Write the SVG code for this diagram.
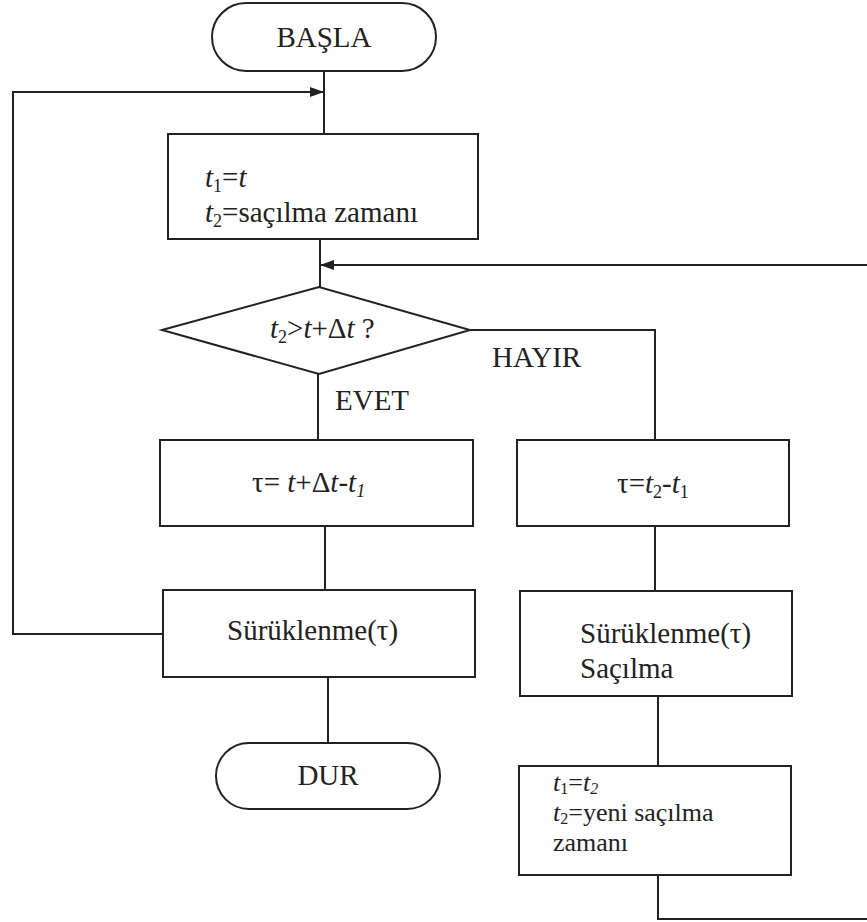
<svg xmlns="http://www.w3.org/2000/svg" width="867" height="922" viewBox="0 0 867 922">
<style>
.s{fill:#fff;stroke:#222;stroke-width:2}
.c{fill:none;stroke:#222;stroke-width:2}
text{font-family:"Liberation Serif","Times New Roman",serif;font-size:29px;fill:#222}
.i{font-style:italic}
.sub{font-size:18px}
.sm{font-size:26px}
.sm .sub{font-size:16px}
</style>
<defs>
<marker id="ah" markerWidth="14" markerHeight="10" refX="13" refY="5" orient="auto" markerUnits="userSpaceOnUse">
<path d="M0,0 L14,5 L0,10 Z" fill="#222"/>
</marker>
</defs>
<g id="connectors">
<path class="c" d="M324,71 V134"/>
<path class="c" d="M163,634 H13 V92 H323" marker-end="url(#ah)"/>
<path class="c" d="M320,239 V287"/>
<path class="c" d="M658,875 V919 H872 V265 H321" marker-end="url(#ah)"/>
<path class="c" d="M318,374 V440"/>
<path class="c" d="M325,526 V590"/>
<path class="c" d="M328,677 V743"/>
<path class="c" d="M470,330 H655 V440"/>
<path class="c" d="M655,526 V591"/>
<path class="c" d="M658,696 V766"/>
</g>
<g id="basla">
<rect class="s" x="212" y="3" width="224" height="68" rx="34"/>
<text x="324" y="47" text-anchor="middle">BAŞLA</text>
</g>
<g id="init">
<rect class="s" x="168" y="134" width="310" height="105"/>
<text x="205" y="187"><tspan class="i">t</tspan><tspan class="sub" dy="5">1</tspan><tspan dy="-5">=</tspan><tspan class="i">t</tspan></text>
<text x="205" y="222"><tspan class="i">t</tspan><tspan class="sub" dy="5">2</tspan><tspan dy="-5">=saçılma zamanı</tspan></text>
</g>
<g id="decision">
<polygon class="s" points="162,330 319,287 470,330 319,374"/>
<text x="270" y="338"><tspan class="i">t</tspan><tspan class="sub" dy="5">2</tspan><tspan dy="-5">&gt;</tspan><tspan class="i">t</tspan><tspan>+Δ</tspan><tspan class="i">t</tspan><tspan> ?</tspan></text>
</g>
<g id="labels">
<text x="335" y="410">EVET</text>
<text x="492" y="367">HAYIR</text>
</g>
<g id="tau-yes">
<rect class="s" x="160" y="440" width="313" height="86"/>
<text x="252" y="492">τ= <tspan class="i">t</tspan>+Δ<tspan class="i">t</tspan>-<tspan class="i">t</tspan><tspan class="sub i" dy="5">1</tspan></text>
</g>
<g id="drift-yes">
<rect class="s" x="163" y="590" width="312" height="87"/>
<text x="227" y="640">Sürüklenme(τ)</text>
</g>
<g id="dur">
<rect class="s" x="216" y="743" width="224" height="66" rx="33"/>
<text x="328" y="785" text-anchor="middle">DUR</text>
</g>
<g id="tau-no">
<rect class="s" x="517" y="440" width="272" height="86"/>
<text x="617" y="493">τ=<tspan class="i">t</tspan><tspan class="sub" dy="5">2</tspan><tspan dy="-5">-</tspan><tspan class="i">t</tspan><tspan class="sub" dy="5">1</tspan></text>
</g>
<g id="drift-no">
<rect class="s" x="520" y="591" width="272" height="105"/>
<text x="580" y="643">Sürüklenme(τ)</text>
<text x="580" y="678">Saçılma</text>
</g>
<g id="update">
<rect class="s" x="519" y="766" width="272" height="109"/>
<text class="sm" x="553" y="791"><tspan class="i">t</tspan><tspan class="sub" dy="3">1</tspan><tspan dy="-3">=</tspan><tspan class="i">t</tspan><tspan class="sub i" dy="3">2</tspan></text>
<text class="sm" x="553" y="821"><tspan class="i">t</tspan><tspan class="sub" dy="3">2</tspan><tspan dy="-3">=yeni saçılma</tspan></text>
<text class="sm" x="553" y="851">zamanı</text>
</g>
</svg>
